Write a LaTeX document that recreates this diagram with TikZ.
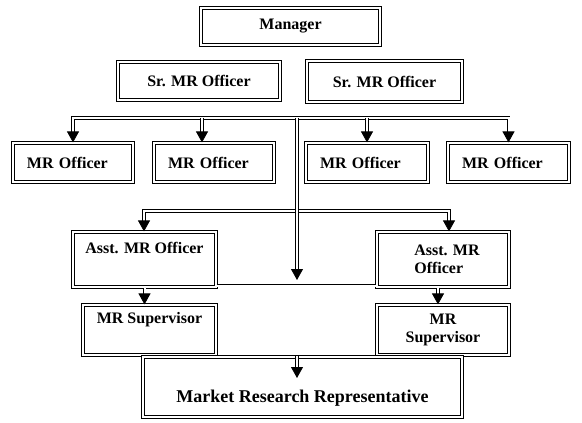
\documentclass[tikz,border=0pt]{standalone}
\usepackage{fontspec}
\setmainfont{Liberation Serif}
\usetikzlibrary{positioning, arrows.meta}

\begin{document}
\begin{tikzpicture}[x=1pt, y=-1pt, >={Triangle[width=12pt,length=11pt]}, font=\bfseries\fontsize{16}{18}\selectfont]
    % Stile dei blocchi
    \tikzstyle{block} = [draw, line width=1.1pt, double, double distance=1.5pt, rectangle, align=center, inner sep=2pt]
    \tikzstyle{officer} = [align=left, inner xsep=14pt, minimum height=39pt]
    \tikzstyle{conn} = [draw, line width=0.8pt, double, double distance=2pt]

    \useasboundingbox (0,0) rectangle (582,423);

    % Nodi
    \node [block, minimum width=179pt, minimum height=37pt] (mgr) at (290.5,26.5) {Manager};
    \node [block, minimum width=162pt, minimum height=38pt] (sr1) at (199,81) {Sr. MR Officer};
    \node [block, minimum width=155pt, minimum height=41pt] (sr2) at (384.5,81.5) {Sr. MR Officer};

    \node [block, officer, text width=92pt] (off1) at (73,162.5) {MR Officer};
    \node [block, officer, text width=92pt] (off2) at (214,162.5) {MR Officer};
    \node [block, officer, text width=94pt] (off3) at (367,162.5) {MR Officer};
    \node [block, officer, text width=93pt] (off4) at (508.5,162.5) {MR Officer};

    \node [block, minimum width=143pt, minimum height=55pt] (asstL) at (144.5,259.5) {Asst. MR Officer\\ \strut};
    \node [block, align=left, minimum width=132pt, minimum height=55pt] (asstR) at (443,259.5) {\hspace*{8pt}Asst. MR\\\hspace*{8pt}Officer};

    \node [block, minimum width=133pt, minimum height=50pt] (supL) at (149.5,330) {MR Supervisor\\ \strut};
    \node [block, minimum width=132pt, minimum height=50pt] (supR) at (443,330) {MR\\Supervisor};

    \node [block, minimum width=319pt, minimum height=60pt, font=\bfseries\fontsize{18}{21}\selectfont] (mrr) at (302.5,387) {\strut\\Market Research Representative};

    \coordinate (lvl1) at (297,118);
    \coordinate (lvl2) at (297,211);
    \coordinate (tip1) at (297,280);
    \coordinate (tip2) at (297,378);

    % Collegamenti
    \draw [conn, <->] (off1.north) |- (lvl1) -| (off4.north);
    \draw [conn, ->] ([xshift=-12pt]off2.north |- lvl1) -- ([xshift=-12pt]off2.north);
    \draw [conn, ->] (off3.north |- lvl1) -- (off3.north);

    \draw [conn, <->] ([xshift=-0.5pt]asstL.north) |- (lvl2) -| ([xshift=6pt]asstR.north);
    \draw [conn, ->] (lvl1) -- (tip1);
    \draw [conn] ([yshift=2pt]asstL.south east) -- ([yshift=2pt]asstR.south west);

    \draw [conn, ->] (asstL.south) -- (asstL.south |- supL.north);
    \draw [conn, ->] ([xshift=-5pt]asstR.south) -- ([xshift=-5pt]supR.north);

    \draw [conn, ->] ([xshift=-5.5pt]mrr.north) -- (tip2);
\end{tikzpicture}
\end{document}
